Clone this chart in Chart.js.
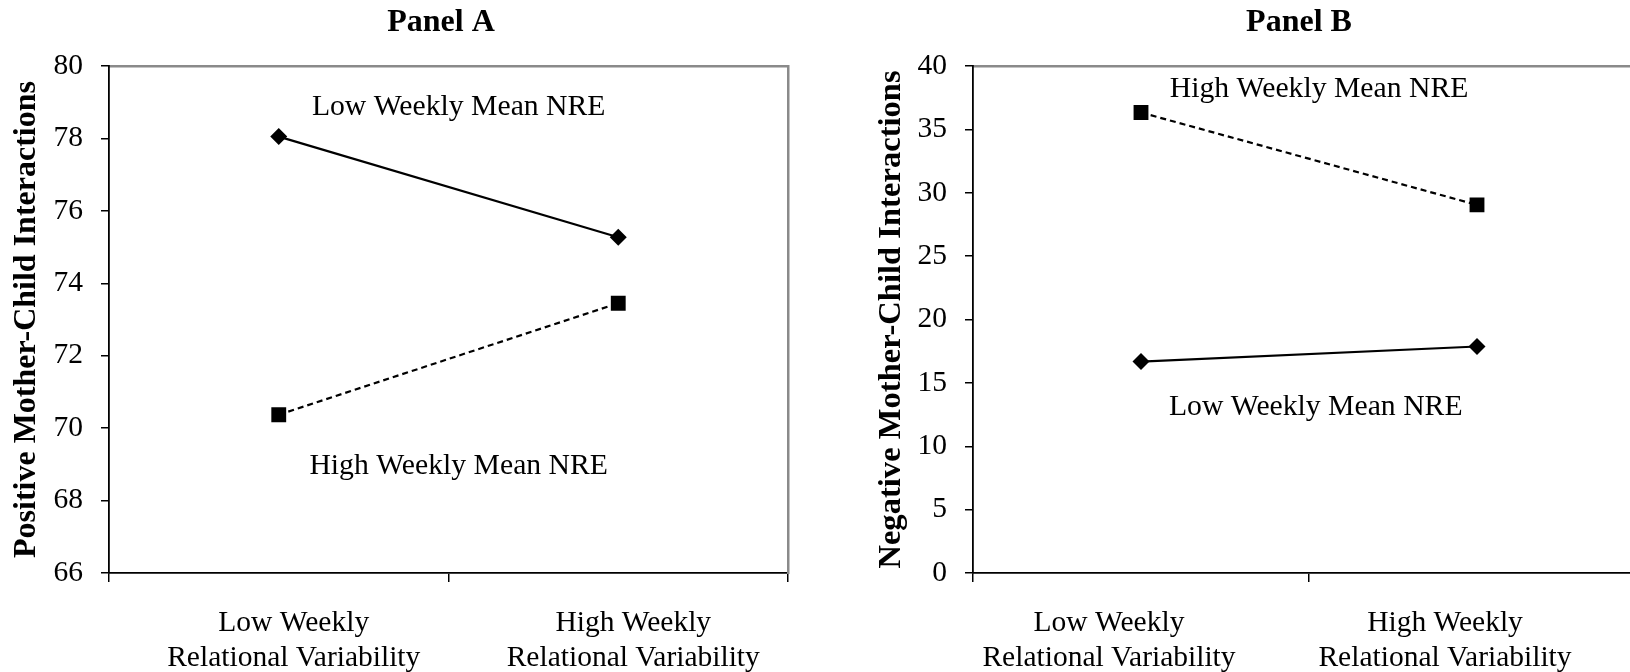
<!DOCTYPE html>
<html>
<head>
<meta charset="utf-8">
<script src="https://cdn.jsdelivr.net/npm/chart.js@4.4.1/dist/chart.umd.min.js"></script>
<style>
html,body{margin:0;padding:0;background:#fff;overflow:hidden;width:1630px;height:672px;position:relative;}
#ca{position:absolute;left:0;top:0;}
#cb{position:absolute;left:864px;top:0;}
</style>
</head>
<body>
<canvas id="ca" width="882" height="672"></canvas>
<canvas id="cb" width="870" height="672"></canvas>
<script>
// ---- data ----
const categories = [["Low Weekly", "Relational Variability"], ["High Weekly", "Relational Variability"]];
const seriesNames = ["Low Weekly Mean NRE", "High Weekly Mean NRE"];

const panelATitle = "Panel A";
const panelAYTitle = "Positive Mother-Child Interactions";
const panelALowNRE = [78.05, 75.27];
const panelAHighNRE = [70.37, 73.45];
const panelATicks = [66, 68, 70, 72, 74, 76, 78, 80];

const panelBTitle = "Panel B";
const panelBYTitle = "Negative Mother-Child Interactions";
const panelBHighNRE = [36.33, 29.04];
const panelBLowNRE = [16.68, 17.87];
const panelBTicks = [0, 5, 10, 15, 20, 25, 30, 35, 40];

// ---- styling ----
const FAMILY = '"Liberation Serif", "Times New Roman", serif';
Chart.defaults.font.family = FAMILY;
Chart.defaults.color = '#000';

const labelPlugin = {
  id: 'nreLabels',
  afterDatasetsDraw(chart, args, opts) {
    const ctx = chart.ctx, xs = chart.scales.x, ys = chart.scales.y;
    ctx.save();
    ctx.font = '29.7px ' + FAMILY;
    ctx.fillStyle = '#000';
    ctx.textAlign = 'center';
    ctx.textBaseline = 'middle';
    (opts.items || []).forEach(it => {
      ctx.fillText(it.text, xs.getPixelForValue(it.at), ys.getPixelForValue(it.y));
    });
    ctx.restore();
  }
};

function makePanel(canvasId, title, yTitle, ticks, solid, dashed, cfg) {
  const tMin = ticks[0], tMax = ticks[ticks.length - 1];
  return new Chart(document.getElementById(canvasId), {
    type: 'line',
    data: {
      labels: categories,
      datasets: [
        {
          label: seriesNames[0], data: solid,
          borderColor: '#000', borderWidth: 2.2,
          pointStyle: 'rectRot', pointRadius: 8.5, pointHoverRadius: 8.5,
          pointBackgroundColor: '#000', pointBorderColor: '#000', pointBorderWidth: 0
        },
        {
          label: seriesNames[1], data: dashed,
          borderColor: '#000', borderWidth: 2.2, borderDash: [6, 4],
          pointStyle: 'rect', pointRadius: 10.5, pointHoverRadius: 10.5,
          pointBackgroundColor: '#000', pointBorderColor: '#000', pointBorderWidth: 0
        }
      ]
    },
    options: {
      responsive: false,
      animation: false,
      events: [],
      layout: { padding: 0 },
      plugins: {
        legend: { display: false },
        tooltip: { enabled: false },
        title: {
          display: true, text: title, color: '#000',
          font: { family: FAMILY, size: 32, weight: 'bold', lineHeight: 1.2 },
          padding: { top: 4, bottom: 23.6 }
        },
        nreLabels: { items: cfg.labels }
      },
      scales: {
        x: {
          type: 'category', position: 'bottom', offset: true,
          grid: { offset: true, drawOnChartArea: false, drawTicks: true, tickLength: 9, color: '#000', lineWidth: 1.5 },
          border: { display: true, color: '#000', width: 1.8 },
          ticks: { font: { size: 29.5, lineHeight: 1.17 }, color: '#000', padding: 24,
                   maxRotation: 0, autoSkip: false, labelOffset: cfg.labelOffset },
          afterFit(s) { s.height = 99; }
        },
        x2: {
          type: 'category', position: 'top', labels: categories,
          grid: { drawOnChartArea: false, drawTicks: false, color: '#888' },
          border: { display: true, color: '#8a8a8a', width: 2.5 },
          ticks: { display: false },
          afterFit(s) { s.height = 0; }
        },
        y: {
          type: 'linear', position: 'left', min: tMin, max: tMax,
          grid: { drawOnChartArea: false, drawTicks: true, tickLength: 8, color: '#000', lineWidth: 1.5 },
          border: { display: true, color: '#000', width: 1.8 },
          ticks: { font: { size: 29.5 }, color: '#000', padding: 18 },
          afterBuildTicks(s) { s.ticks = ticks.map(v => ({ value: v })); },
          title: {
            display: true, text: yTitle, color: '#000',
            font: { family: FAMILY, size: cfg.yTitleSize, weight: 'bold', lineHeight: 1.2 },
            padding: { top: 8, bottom: 0 }
          },
          afterFit(s) { s.width = 109; }
        },
        y2: {
          type: 'linear', position: 'right', min: tMin, max: tMax,
          grid: { drawOnChartArea: false, drawTicks: false, color: '#888' },
          border: { display: true, color: '#8a8a8a', width: 2.5 },
          ticks: { display: false },
          afterFit(s) { s.width = cfg.rightWidth; }
        }
      }
    },
    plugins: [labelPlugin]
  });
}

makePanel('ca', panelATitle, panelAYTitle, panelATicks, panelALowNRE, panelAHighNRE, {
  rightWidth: 94, labelOffset: 15, yTitleSize: 32,
  labels: [
    { text: seriesNames[0], at: 0.53, y: 78.85 },
    { text: seriesNames[1], at: 0.53, y: 68.96 }
  ]
});
makePanel('cb', panelBTitle, panelBYTitle, panelBTicks, panelBLowNRE, panelBHighNRE, {
  rightWidth: 89, labelOffset: -32, yTitleSize: 32.6,
  labels: [
    { text: seriesNames[1], at: 0.53, y: 38.15 },
    { text: seriesNames[0], at: 0.52, y: 13.05 }
  ]
});
</script>
</body>
</html>
